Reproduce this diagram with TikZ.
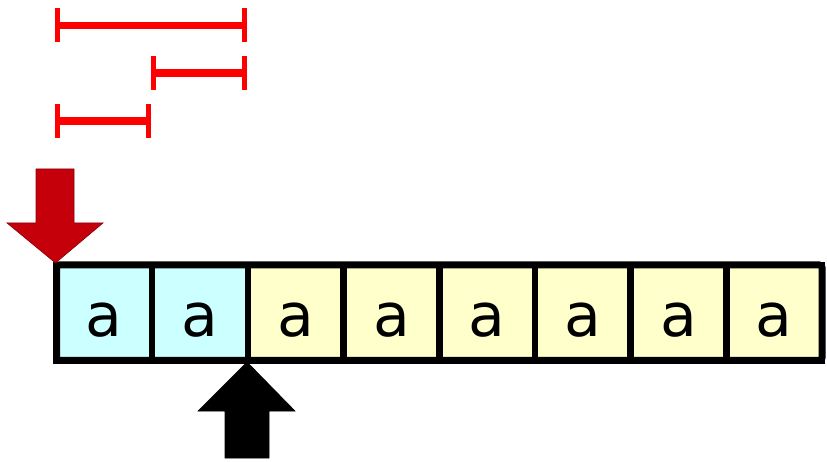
\documentclass[tikz,border=0pt]{standalone}
\usepackage{fontspec}
\setmainfont{DejaVu Sans}
\definecolor{cellcyan}{RGB}{204,255,255}
\definecolor{cellyellow}{RGB}{255,255,204}
\definecolor{arrowred}{RGB}{197,0,11}
\definecolor{barred}{RGB}{255,0,0}
\begin{document}
\begin{tikzpicture}[x=1pt,y=-1pt,
  cellbox/.style={draw=black, line width=6.5pt, minimum width=95.7pt, minimum height=95.5pt,
    inner sep=0pt, outer sep=0pt, text height=48pt, text depth=0pt,
    font=\fontsize{60}{60}\selectfont},
  barline/.style={barred, line width=7.5pt},
  bartick/.style={barred, line width=5pt},
  redarrow/.style={fill=arrowred, draw=arrowred!70!black, line width=0.6pt},
  blackarrow/.style={fill=black, draw=black, line width=0.6pt}]
\useasboundingbox (0,0) rectangle (827,462);
\fill[white] (0,0) rectangle (827,462);
% cells
\foreach \i/\c in {1/cellcyan,2/cellcyan,3/cellyellow,4/cellyellow,5/cellyellow,6/cellyellow,7/cellyellow,8/cellyellow}{
  \node[cellbox, fill=\c] (c\i) at ({56.5+95.7*(\i-0.5)},312.7) {a};
}
\draw[line width=7pt, rounded corners=3pt] (c1.north west) rectangle (c8.south east);
% red bars
\coordinate (t1) at (57,25.5); \coordinate (t2) at (244.5,25.5);
\coordinate (m1) at (153,73);  \coordinate (m2) at (244.5,73);
\coordinate (b1) at (57,121);  \coordinate (b2) at (148.5,121);
\foreach \a/\b in {t1/t2,m1/m2,b1/b2}{
  \draw[barline] (\a) -- (\b);
  \draw[bartick] ([yshift=-17pt]\a) -- ([yshift=17pt]\a);
  \draw[bartick] ([yshift=-17pt]\b) -- ([yshift=17pt]\b);
}
% red arrow pointing down to start
\coordinate (rtip) at (55.5,263);
\draw[redarrow] (rtip) -- (103,223) -- (74,223) -- (74,169) -- (36,169) -- (36,223) -- (7,223) -- cycle;
% black arrow pointing up
\coordinate (btip) at (247,362);
\draw[blackarrow] (btip) -- (295,411) -- (269,411) -- (269,458) -- (225,458) -- (225,411) -- (198,411) -- cycle;
\end{tikzpicture}
\end{document}
